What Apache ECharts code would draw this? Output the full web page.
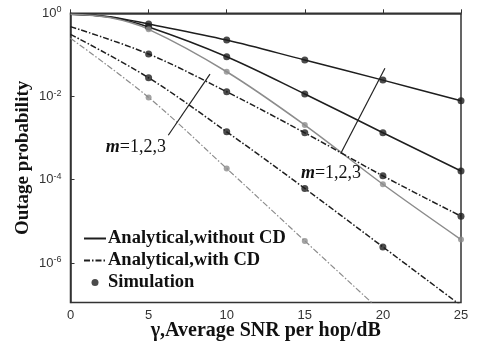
<!DOCTYPE html>
<html><head><meta charset="utf-8">
<script src="https://cdn.jsdelivr.net/npm/echarts@6/dist/echarts.min.js"></script>
<style>html,body{margin:0;padding:0;background:#fff}#c{width:479px;height:341px}</style>
</head><body><div id="c"></div>
<script>
// x values (average SNR per hop, dB)
const xSolid = [0, 2.5, 5, 10, 15, 20, 25];
const xDash = [0, 5, 10, 15, 20, 25];
const xSim = [5, 10, 15, 20, 25];
// Analytical, without CD (m = 1, 2, 3)
const noCD_m1 = [0.955, 0.83, 0.553, 0.228, 0.0753, 0.0248, 0.0079];
const noCD_m2 = [0.955, 0.81, 0.468, 0.0904, 0.0115, 1.35e-3, 1.62e-4];
const noCD_m3 = [0.955, 0.79, 0.412, 0.0394, 2.06e-3, 7.8e-5, 3.66e-6];
// Analytical, with CD (m = 1, 2, 3)
const CD_m1 = [0.479, 0.105, 0.013, 1.34e-3, 1.24e-4, 1.33e-5];
const CD_m2 = [0.313, 0.0282, 1.42e-3, 6.17e-5, 2.43e-6, 9.5e-8];
const CD_m3 = [0.251, 9.5e-3, 1.86e-4, 3.39e-6, 6.3e-8];
// Simulation points
const sim_noCD_m1 = [0.553, 0.228, 0.0753, 0.0248, 0.0079];
const sim_noCD_m2 = [0.468, 0.0904, 0.0115, 1.35e-3, 1.62e-4];
const sim_noCD_m3 = [0.412, 0.0394, 2.06e-3, 7.8e-5, 3.66e-6];
const sim_CD_m1 = [0.105, 0.013, 1.34e-3, 1.24e-4, 1.33e-5];
const sim_CD_m2 = [0.0282, 1.42e-3, 6.17e-5, 2.43e-6];
const sim_CD_m3 = [9.5e-3, 1.86e-4, 3.39e-6];
// y tick exponents labelled
const yTickExp = [0, -2, -4, -6];
const yMinExp = -6.95;

const BLACK = '#1e1e1e', GRAY = '#8c8c8c';
const SERIF = '"Liberation Serif","Times New Roman",serif';
const SANS = '"Liberation Sans",Arial,sans-serif';
const toPts = (xs, ps) => ps.map((p, i) => [xs[i], Math.log10(p)]);
const DASHDOT = [6, 2, 1.5, 2];

function lineS(name, xs, ps, color, dash, w) {
  return {
    name, type: 'line', data: toPts(xs, ps), symbol: 'none', smooth: 0.35,
    lineStyle: { color, width: w || 1.5, type: dash ? DASHDOT : 'solid' },
    itemStyle: { color }, z: 2, clip: true
  };
}
function simS(xs, ps, color, size) {
  return {
    name: 'Simulation', type: 'scatter', data: toPts(xs, ps), symbol: 'circle',
    symbolSize: size, itemStyle: { color }, z: 4, clip: true
  };
}

const chart = echarts.init(document.getElementById('c'), null, { renderer: 'canvas' });
const mLabel = {
  formatter: '{i|m}{n|=1,2,3}',
  rich: {
    i: { fontFamily: SERIF, fontSize: 18, fontStyle: 'italic', fontWeight: 'bold', color: '#111' },
    n: { fontFamily: SERIF, fontSize: 18, color: '#111' }
  }
};
chart.setOption({
  animation: false,
  grid: { left: 70.5, right: 18, top: 13.3, bottom: 38.5, outerBoundsMode: 'none', containLabel: false, show: true, borderColor: '#333', borderWidth: 1.5 },
  legend: {
    orient: 'vertical', left: 78, top: 224, itemWidth: 22, itemHeight: 7, itemGap: 3,
    data: [
      { name: 'Analytical,without CD', itemStyle: { opacity: 0 } },
      { name: 'Analytical,with CD', itemStyle: { opacity: 0 } },
      { name: 'Simulation' }
    ],
    textStyle: { fontFamily: SERIF, fontSize: 18.5, fontWeight: 'bold', color: '#111', padding: [0, 0, 0, -3] }
  },
  xAxis: {
    type: 'value', min: 0, max: 25, interval: 5,
    name: 'γ,Average SNR per hop/dB', nameLocation: 'middle', nameGap: 18, nameMoveOverlap: false,
    nameTextStyle: { fontFamily: SERIF, fontSize: 20, fontWeight: 'bold', color: '#111' },
    axisLine: { lineStyle: { color: '#333', width: 1.5 } },
    axisTick: { inside: true, length: 4, lineStyle: { color: '#333' } },
    axisLabel: { fontFamily: SANS, fontSize: 13, color: '#333', margin: 6 },
    splitLine: { show: false }
  },
  yAxis: {
    type: 'value', min: yMinExp, max: 0, splitNumber: 3,
    name: 'Outage probability', nameLocation: 'middle', nameGap: 38, nameMoveOverlap: false,
    nameTextStyle: { fontFamily: SERIF, fontSize: 19, fontWeight: 'bold', color: '#111' },
    axisLine: { lineStyle: { color: '#333', width: 1.5 } },
    axisTick: { inside: true, length: 4, lineStyle: { color: '#333' } },
    axisLabel: {
      fontFamily: SANS, fontSize: 13, color: '#333', margin: 9,
      formatter: v => yTickExp.includes(Math.round(v * 1000) / 1000) ? '10{s|' + (v === 0 ? '0' : String(v)) + '}' : '',
      rich: { s: { fontFamily: SANS, fontSize: 9, color: '#333', verticalAlign: 'top', padding: [0, 0, 7, 0] } }
    },
    splitLine: { show: false }
  },
  series: [
    lineS('Analytical,without CD', xSolid, noCD_m1, BLACK, false),
    lineS('Analytical,without CD', xSolid, noCD_m2, BLACK, false),
    lineS('Analytical,without CD', xSolid, noCD_m3, GRAY, false),
    lineS('Analytical,with CD', xDash, CD_m1, BLACK, true),
    lineS('Analytical,with CD', xDash, CD_m2, BLACK, true),
    lineS('Analytical,with CD', xDash, CD_m3, GRAY, true, 1.2),
    simS(xSim, sim_noCD_m1, BLACK, 7),
    simS(xSim, sim_noCD_m2, BLACK, 7),
    simS(xSim, sim_noCD_m3, GRAY, 6),
    simS(xSim, sim_CD_m1, BLACK, 7),
    simS(xSim, sim_CD_m2, BLACK, 7),
    simS(xSim, sim_CD_m3, GRAY, 6),
    {
      name: 'annot', type: 'line', data: [], z: 5,
      markLine: {
        silent: true, symbol: ['none', 'arrow'], symbolSize: [0, 6],
        lineStyle: { color: '#222', width: 1.2, type: 'solid' }, label: { show: false },
        data: [
          [{ coord: [8.93, -1.46] }, { coord: [6.26, -2.93] }],
          [{ coord: [20.13, -1.32] }, { coord: [17.3, -3.37] }]
        ]
      },
      markPoint: {
        silent: true, symbol: 'circle', symbolSize: 0,
        label: Object.assign({ show: true, position: 'inside' }, mLabel),
        data: [{ coord: [4.19, -3.22] }, { coord: [16.68, -3.84] }]
      }
    }
  ]
});
</script></body></html>
